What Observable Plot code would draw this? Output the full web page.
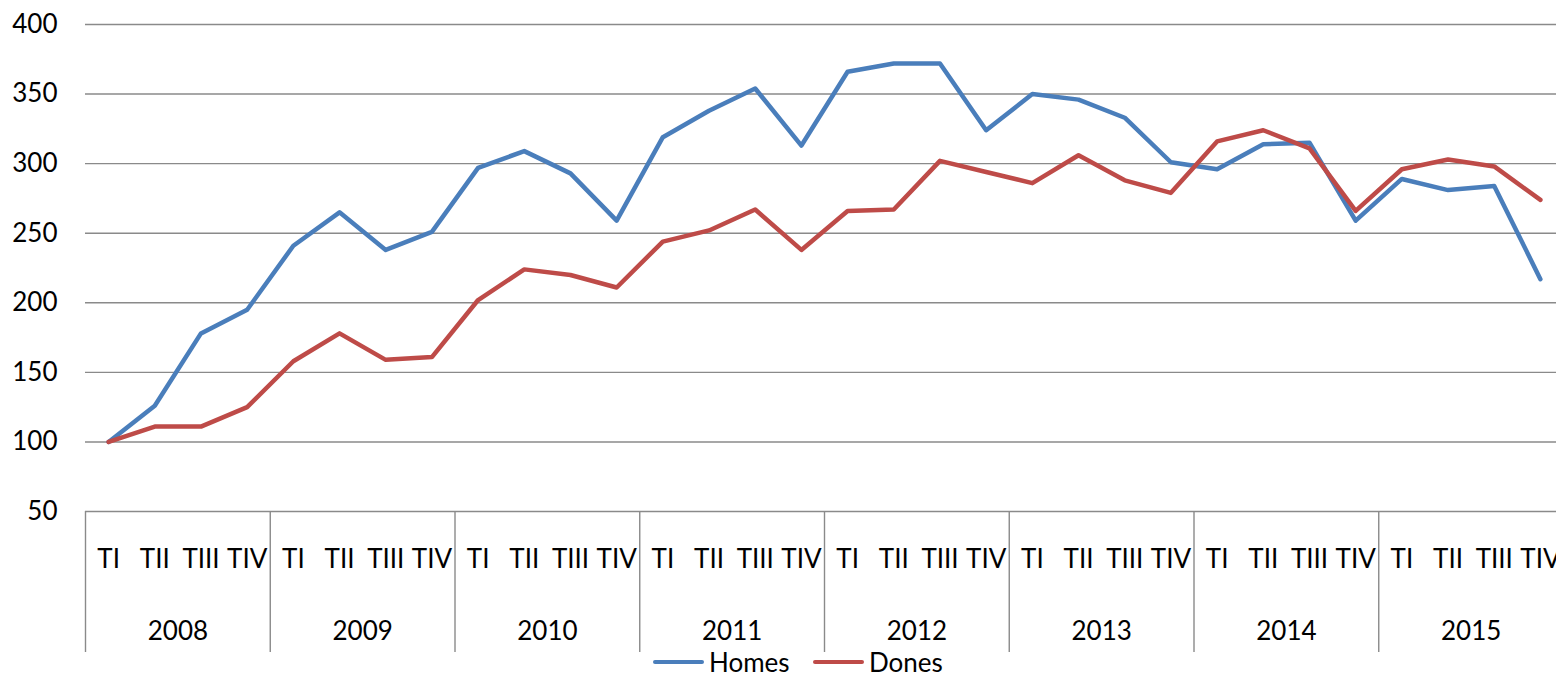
<!DOCTYPE html>
<html>
<head>
<meta charset="utf-8">
<script src="https://cdn.jsdelivr.net/npm/d3@7"></script>
<script src="https://cdn.jsdelivr.net/npm/@observablehq/plot@0.6"></script>
<style>
  html, body { margin: 0; padding: 0; background: #fff; }
  #wrap { position: relative; width: 1556px; height: 675px; font-family: Lato, sans-serif; }
  #legend { position: absolute; top: 649px; left: 0; width: 1556px; height: 26px; font-size: 26px; line-height: 26px; color: #000; }
  .item { position: absolute; top: 0; display: flex; align-items: center; height: 26px; }
  .sw { width: 51px; height: 4.5px; border-radius: 2px; margin-right: 5px; }
</style>
</head>
<body>
<div id="wrap">
  <div id="chart"></div>
  <div id="legend"></div>
</div>
<script>
const years = [2008, 2009, 2010, 2011, 2012, 2013, 2014, 2015];
const quarterLabels = ["TI", "TII", "TIII", "TIV"];
const seriesNames = ["Homes", "Dones"];
const seriesColors = ["#4a7ebb", "#be4b48"];
const homes = [100, 126, 178, 195, 241, 265, 238, 251,
               297, 309, 293, 259, 319, 338, 354, 313,
               366, 372, 372, 324, 350, 346, 333, 301,
               296, 314, 315, 259, 289, 281, 284, 217];
const dones = [100, 111, 111, 125, 158, 178, 159, 161,
               202, 224, 220, 211, 244, 252, 267, 238,
               266, 267, 302, 294, 286, 306, 288, 279,
               316, 324, 311, 266, 296, 303, 298, 274];
const yTicks = [50, 100, 150, 200, 250, 300, 350, 400];

const n = years.length * quarterLabels.length;
const idx = d3.range(n);
const yearCenters = years.map((y, k) => k * 4 + 1.5);
const boundaries = d3.range(years.length + 1).map(k => k * 4 - 0.5);

const rows = [];
seriesNames.forEach((s, si) => {
  const vals = si === 0 ? homes : dones;
  vals.forEach((v, i) => rows.push({series: s, i, value: v}));
});

const chart = Plot.plot({
  width: 1556,
  height: 655,
  marginLeft: 85,
  marginRight: 0,
  marginTop: 24,
  marginBottom: 144,
  style: {fontFamily: "Lato, sans-serif", color: "#000", background: "#fff"},
  x: {type: "linear", domain: [-0.5, n - 0.5], range: [85, 1563]},
  y: {domain: [50, 400]},
  color: {domain: seriesNames, range: seriesColors},
  marks: [
    Plot.gridY(yTicks, {stroke: "#8a8a8a", strokeOpacity: 1, strokeWidth: 1.4}),
    Plot.axisY(yTicks, {tickSize: 0, tickPadding: 28, fontSize: 26, label: null, tickFormat: d => String(d)}),
    Plot.axisX(boundaries, {tickSize: 141, tickFormat: () => "", stroke: "#8a8a8a", strokeWidth: 1.4, label: null}),
    Plot.axisX(idx, {tickSize: 0, tickPadding: 38, fontSize: 26, label: null, tickFormat: i => quarterLabels[i % 4]}),
    Plot.axisX(yearCenters, {tickSize: 0, tickPadding: 110, fontSize: 26, label: null, tickFormat: (d, k) => String(years[Math.round((d - 1.5) / 4)])}),
    Plot.line(rows, {x: "i", y: "value", z: "series", stroke: "series", strokeWidth: 4.5, strokeLinejoin: "round", strokeLinecap: "round"})
  ]
});
document.getElementById("chart").appendChild(chart);

const legend = document.getElementById("legend");
const lefts = [653, 813];
seriesNames.forEach((s, si) => {
  const item = document.createElement("div");
  item.className = "item";
  item.style.left = lefts[si] + "px";
  const sw = document.createElement("div");
  sw.className = "sw";
  sw.style.background = seriesColors[si];
  const t = document.createElement("span");
  t.textContent = s;
  item.appendChild(sw);
  item.appendChild(t);
  legend.appendChild(item);
});
</script>
</body>
</html>
